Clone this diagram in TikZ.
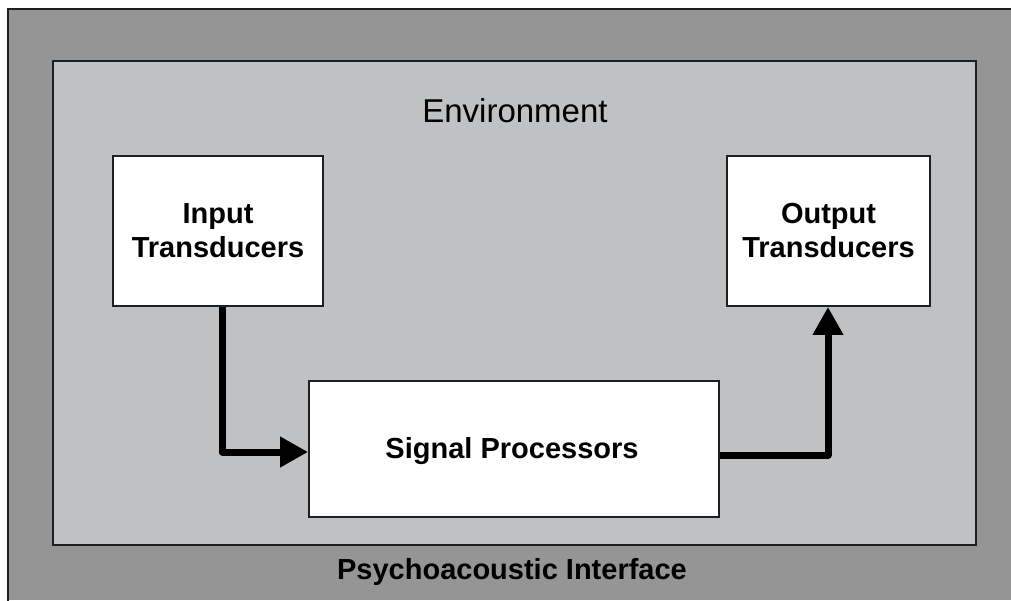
\documentclass[tikz,border=0pt]{standalone}
\usepackage{fontspec}
\setmainfont{Liberation Sans}
\usetikzlibrary{arrows.meta}
\definecolor{outergray}{HTML}{959595}
\definecolor{innergray}{HTML}{C0C1C3}
\definecolor{edge}{HTML}{1A2024}
\begin{document}
\begin{tikzpicture}[x=1pt,y=-1pt,
  frame/.style={draw=edge,line width=1.8pt},
  block/.style={frame,fill=white,inner sep=0pt,align=center,
    font=\fontsize{29}{34}\selectfont\bfseries},
  flow/.style={line width=7pt,line join=round,
    -{Triangle[length=28pt,width=29pt]}}]
\useasboundingbox (0,0) rectangle (1011,600);
\fill[white] (0,0) rectangle (1011,600);
% outer interface region, running off the right and bottom edges
\fill[outergray] (8,9) rectangle (1011,600);
\draw[edge,line width=1.8pt,line cap=rect] (8,600) -- (8,9) -- (1011,9);
% environment
\draw[frame,fill=innergray] (53,61) rectangle (976,545);
\node[font=\fontsize{33}{38}\selectfont] (env) at (515,111) {Environment};
\node[font=\fontsize{29}{34}\selectfont\bfseries] (psy) at (512,572) {Psychoacoustic Interface};
% blocks
\node[block,minimum width=210pt,minimum height=150pt] (in) at (218,231) {Input\\Transducers};
\node[block,minimum width=203pt,minimum height=150pt] (out) at (828.5,231) {Output\\Transducers};
\node[block,minimum width=410pt,minimum height=136pt] (sig) at (514,449) {};
\node[font=\fontsize{29}{34}\selectfont\bfseries] (siglabel) at (512,451) {Signal Processors};
% connectors
\draw[flow] (in.south -| 222,0) |- (sig.west |- 0,452);
\draw[flow] (sig.east |- 0,455) -| (out.south -| 828,0);
\end{tikzpicture}
\end{document}
